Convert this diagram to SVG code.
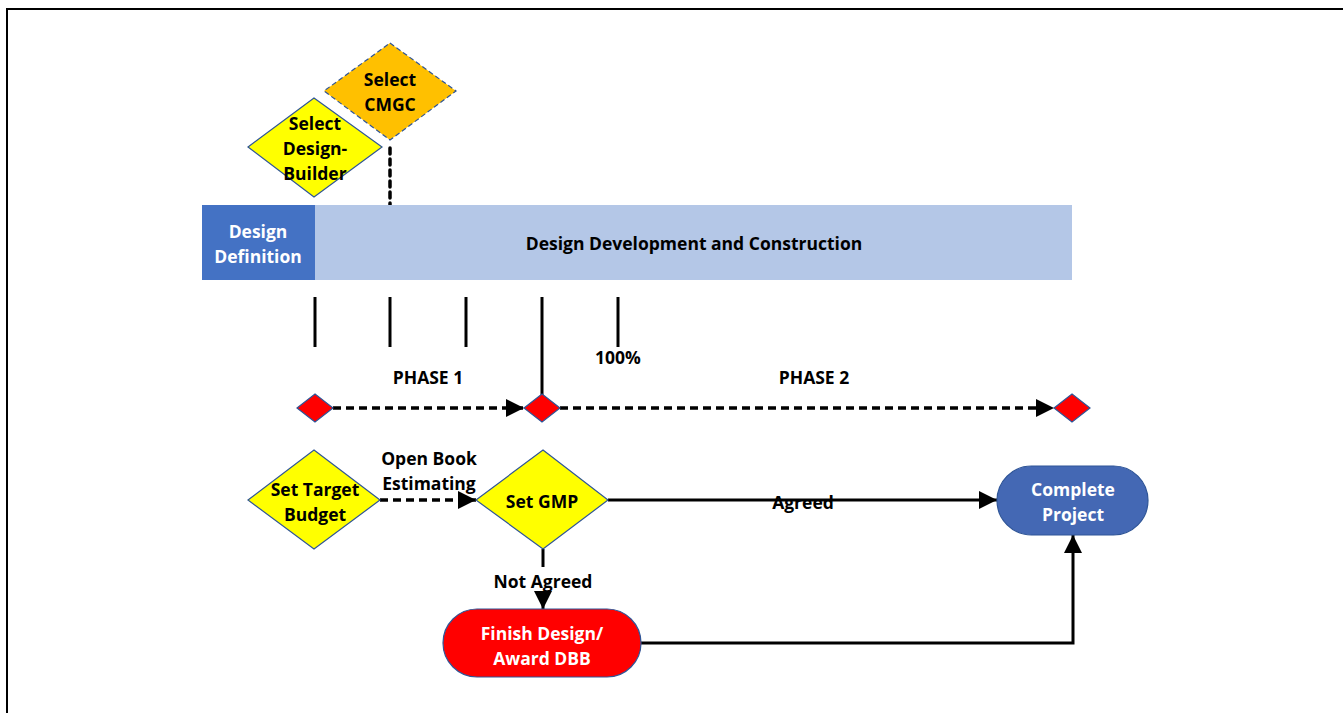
<svg xmlns="http://www.w3.org/2000/svg" width="1343" height="713" viewBox="0 0 1343 713">
<defs>
<style>
.t{font-family:"Open Sans","Liberation Sans",Arial,sans-serif;font-weight:bold;font-size:17.5px;text-anchor:middle;dominant-baseline:central;fill:#000}
.w{fill:#fff}
.dia{fill:#FFFF00;stroke:#2F5597;stroke-width:1.2}
.red{fill:#FF0000;stroke:#2F5597;stroke-width:1.2}
.ln{stroke:#000;stroke-width:3;fill:none}
.dash{stroke:#000;stroke-width:3.5;fill:none;stroke-dasharray:8 5}
</style>
<marker id="ah" viewBox="0 0 10 10" refX="10" refY="5" markerWidth="18" markerHeight="18" markerUnits="userSpaceOnUse" orient="auto">
<path d="M0,0 L10,5 L0,10 z" fill="#000"/>
</marker>
</defs>
<rect width="1343" height="713" fill="#fff"/>
<path d="M7,713 V9 H1343" fill="none" stroke="#000" stroke-width="2"/>

<g id="connectors">
<line x1="390" y1="148" x2="390" y2="205" stroke="#000" stroke-width="3.5" stroke-dasharray="6 5" stroke-linecap="round"/>
<line class="ln" x1="315" y1="297" x2="315" y2="347"/>
<line class="ln" x1="390" y1="297" x2="390" y2="347"/>
<line class="ln" x1="466" y1="297" x2="466" y2="347"/>
<line class="ln" x1="542" y1="297" x2="542" y2="396"/>
<line class="ln" x1="618" y1="297" x2="618" y2="347"/>
<line class="dash" x1="333" y1="408" x2="524" y2="408" marker-end="url(#ah)"/>
<line class="dash" x1="560" y1="408" x2="1054" y2="408" marker-end="url(#ah)"/>
<line class="dash" x1="380" y1="500" x2="476" y2="500" marker-end="url(#ah)"/>
<line class="ln" x1="608" y1="500" x2="997" y2="500" marker-end="url(#ah)"/>
<line class="ln" x1="543" y1="549" x2="543" y2="567"/>
<line class="ln" x1="543" y1="592" x2="543" y2="609" marker-end="url(#ah)"/>
<polyline class="ln" points="641,643 1073,643 1073,535" marker-end="url(#ah)"/>
<text class="t" x="429" y="458">Open Book</text>
<text class="t" x="429" y="483">Estimating</text>
<text class="t" x="803" y="502">Agreed</text>
<text class="t" x="543" y="581">Not Agreed</text>
</g>

<g id="select-cmgc">
<polygon points="390,43 456,91 390,140 324,91" fill="#FFC000" stroke="#2F5597" stroke-width="1.2" stroke-dasharray="5 3"/>
<text class="t" x="390" y="79">Select</text>
<text class="t" x="390" y="104">CMGC</text>
</g>
<g id="select-design-builder">
<polygon class="dia" points="314,98 382,147 314,197 248,147"/>
<text class="t" x="315" y="123">Select</text>
<text class="t" x="315" y="148">Design-</text>
<text class="t" x="315" y="173">Builder</text>
</g>

<g id="design-definition">
<rect x="202" y="205" width="113" height="75" fill="#4472C4"/>
<text class="t w" x="258" y="231">Design</text>
<text class="t w" x="258" y="256">Definition</text>
</g>
<g id="design-development">
<rect x="315" y="205" width="757" height="75" fill="#B4C7E7"/>
<text class="t" x="694" y="243">Design Development and Construction</text>
</g>

<g id="labels">
<text class="t" x="618" y="357">100%</text>
<text class="t" x="428" y="377">PHASE 1</text>
<text class="t" x="814" y="377">PHASE 2</text>
</g>

<g id="milestone-1"><polygon class="red" points="315,394 333,408 315,422 297,408"/></g>
<g id="milestone-2"><polygon class="red" points="542,394 560,408 542,422 524,408"/></g>
<g id="milestone-3"><polygon class="red" points="1072,394 1090,408 1072,422 1054,408"/></g>

<g id="set-target-budget">
<polygon class="dia" points="314,450 380,500 314,549 248,500"/>
<text class="t" x="315" y="489">Set Target</text>
<text class="t" x="315" y="514">Budget</text>
</g>
<g id="set-gmp">
<polygon class="dia" points="543,450 608,500 543,549 476,500"/>
<text class="t" x="542" y="501">Set GMP</text>
</g>
<g id="complete-project">
<rect x="997" y="466" width="151" height="69" rx="34.5" fill="#4468B4" stroke="#2F5597" stroke-width="1.2"/>
<text class="t w" x="1073" y="489">Complete</text>
<text class="t w" x="1073" y="514">Project</text>
</g>
<g id="finish-design">
<rect x="443" y="609" width="198" height="68" rx="34" fill="#FF0000" stroke="#2F5597" stroke-width="1.2"/>
<text class="t w" x="542" y="633">Finish Design/</text>
<text class="t w" x="542" y="658">Award DBB</text>
</g>
</svg>
